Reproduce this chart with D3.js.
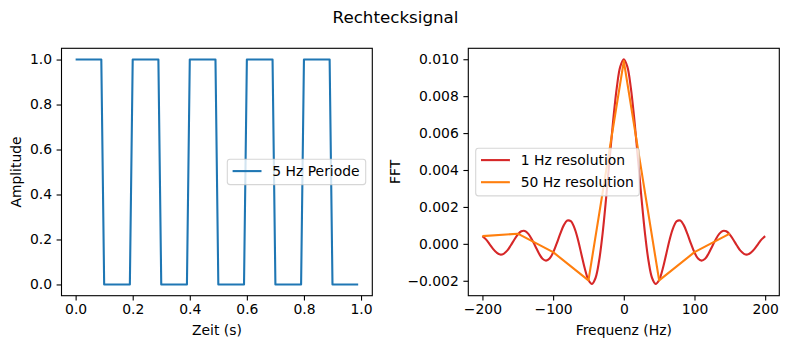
<!DOCTYPE html>
<html>
<head>
<meta charset="utf-8">
<script src="https://cdn.jsdelivr.net/npm/d3@7"></script>
<style>
  body { margin: 0; background: #fff; }
  svg { font-family: "DejaVu Sans", sans-serif; display: block; }
</style>
</head>
<body>
<svg id="fig" width="788" height="348"></svg>
<script>
// square wave, corner samples (t in s)
const sampleTimes = [0, 0.09, 0.10, 0.19, 0.20, 0.29, 0.30, 0.39, 0.40, 0.49,
                     0.50, 0.59, 0.60, 0.69, 0.70, 0.79, 0.80, 0.89, 0.90, 0.99];
const amplitude   = [1, 1, 0, 0, 1, 1, 0, 0, 1, 1,
                     0, 0, 1, 1, 0, 0, 1, 1, 0, 0];

// spectrum at fine resolution, every 5 Hz from -200 to 200
const fineFreqs = d3.range(-200, 205, 5);
const fineFFT = [
   0.00042,  0.00024, -0.00001, -0.00027, -0.00047, -0.00058, -0.00054, -0.00037, -0.00009,  0.00022,
   0.00050,  0.00068,  0.00070,  0.00054,  0.00024, -0.00014, -0.00052, -0.00081, -0.00091, -0.00080,
  -0.00047,  0.00001,  0.00054,  0.00100,  0.00126,  0.00123,  0.00088,  0.00025, -0.00056, -0.00136,
  -0.00196, -0.00217, -0.00185, -0.00093,  0.00056,  0.00249,  0.00462,  0.00670,  0.00844,  0.00960,
   0.01000,
   0.00960,  0.00844,  0.00670,  0.00462,  0.00249,  0.00056, -0.00093, -0.00185, -0.00217, -0.00196,
  -0.00136, -0.00056,  0.00025,  0.00088,  0.00123,  0.00126,  0.00100,  0.00054,  0.00001, -0.00047,
  -0.00080, -0.00091, -0.00081, -0.00052, -0.00014,  0.00024,  0.00054,  0.00070,  0.00068,  0.00050,
   0.00022, -0.00009, -0.00037, -0.00054, -0.00058, -0.00047, -0.00027, -0.00001,  0.00024,  0.00042
];

// spectrum at coarse resolution
const coarseFreqs = [-200, -150, -100, -50, 0, 50, 100, 150];
const coarseFFT = [0.00042, 0.00055, -0.00045, -0.00198, 0.0099, -0.00198, -0.00045, 0.00055];

const leftXTicks = [0, 0.2, 0.4, 0.6, 0.8, 1.0];
const leftYTicks = [0, 0.2, 0.4, 0.6, 0.8, 1.0];
const rightXTicks = [-200, -100, 0, 100, 200];
const rightYTicks = [-0.002, 0, 0.002, 0.004, 0.006, 0.008, 0.010];

const svg = d3.select("#fig");
const fs = 13.9;
const minus = s => s.replace("-", "\u2212");

svg.append("text")
    .attr("x", 395.5).attr("y", 22.5)
    .attr("text-anchor", "middle")
    .attr("font-size", 16.7)
    .text("Rechtecksignal");

function panel(box, xDom, yDom, xTicks, yTicks, xFmt, yFmt, xLabel, yLabel, yLabelX) {
    const x = d3.scaleLinear().domain(xDom).range([box.x0, box.x1]);
    const y = d3.scaleLinear().domain(yDom).range([box.y1, box.y0]);
    const g = svg.append("g");

    const xAxis = g.append("g")
        .attr("transform", `translate(0,${box.y1})`)
        .call(d3.axisBottom(x).tickValues(xTicks).tickFormat(d => minus(xFmt(d)))
            .tickSizeOuter(0).tickSize(4.9).tickPadding(3.6));
    const yAxis = g.append("g")
        .attr("transform", `translate(${box.x0},0)`)
        .call(d3.axisLeft(y).tickValues(yTicks).tickFormat(d => minus(yFmt(d)))
            .tickSizeOuter(0).tickSize(4.9).tickPadding(4.6));
    [xAxis, yAxis].forEach(a => {
        a.select(".domain").remove();
        a.selectAll("line").attr("stroke", "#000").attr("stroke-width", 1.1);
        a.selectAll("text").attr("font-size", fs).attr("fill", "#000")
            .attr("font-family", "DejaVu Sans, sans-serif");
    });

    g.append("text")
        .attr("x", (box.x0 + box.x1) / 2).attr("y", 335)
        .attr("text-anchor", "middle").attr("font-size", fs)
        .text(xLabel);
    g.append("text")
        .attr("transform", `translate(${yLabelX},${(box.y0 + box.y1) / 2}) rotate(-90)`)
        .attr("text-anchor", "middle").attr("font-size", fs)
        .text(yLabel);

    const clipId = "clip" + Math.round(box.x0);
    g.append("clipPath").attr("id", clipId).append("rect")
        .attr("x", box.x0).attr("y", box.y0)
        .attr("width", box.x1 - box.x0).attr("height", box.y1 - box.y0);
    const plot = g.append("g").attr("clip-path", `url(#${clipId})`);
    const frame = () => g.append("rect")
        .attr("x", box.x0).attr("y", box.y0)
        .attr("width", box.x1 - box.x0).attr("height", box.y1 - box.y0)
        .attr("fill", "none").attr("stroke", "#000").attr("stroke-width", 1.1);
    return { x, y, g, plot, frame };
}

function addLine(p, xs, ys, color, curve) {
    const line = d3.line().x(d => p.x(d[0])).y(d => p.y(d[1]))
        .curve(curve || d3.curveLinear);
    p.plot.append("path")
        .datum(xs.map((v, i) => [v, ys[i]]))
        .attr("d", line)
        .attr("fill", "none").attr("stroke", color)
        .attr("stroke-width", 2.1).attr("stroke-linejoin", "round");
}

function legend(p, bx, by, w, entries) {
    const lg = p.g.append("g");
    lg.append("rect")
        .attr("x", bx).attr("y", by).attr("width", w).attr("height", entries.length * 22.3 + 3)
        .attr("rx", 2.8)
        .attr("fill", "#fff").attr("fill-opacity", 0.8)
        .attr("stroke", "#ccc").attr("stroke-opacity", 0.8).attr("stroke-width", 1.1);
    entries.forEach((e, i) => {
        const yy = by + 11.8 + i * 22.1;
        lg.append("line")
            .attr("x1", bx + 5.3).attr("x2", bx + 34.2)
            .attr("y1", yy).attr("y2", yy)
            .attr("stroke", e.color).attr("stroke-width", 2.1);
        lg.append("text")
            .attr("x", bx + 45).attr("y", yy + 5)
            .attr("font-size", fs)
            .text(e.label);
    });
}

// left: time signal
const L = panel({ x0: 61.5, x1: 372.3, y0: 48.3, y1: 295.7 },
    [-0.0495, 1.0395], [-0.05, 1.05], leftXTicks, leftYTicks,
    d3.format(".1f"), d3.format(".1f"), "Zeit (s)", "Amplitude", 20.5);
addLine(L, sampleTimes, amplitude, "#1f77b4");
L.frame();
legend(L, 227.3, 159.3, 138.4, [{ label: "5 Hz Periode", color: "#1f77b4" }]);

// right: spectrum
const R = panel({ x0: 468.3, x1: 779.3, y0: 48.3, y1: 295.7 },
    [-220, 220], [-0.002809, 0.010593], rightXTicks, rightYTicks,
    d3.format("d"), d3.format(".3f"), "Frequenz (Hz)", "FFT", 400);
addLine(R, fineFreqs, fineFFT, "#d62728", d3.curveCatmullRom.alpha(0.5));
addLine(R, coarseFreqs, coarseFFT, "#ff7f0e");
R.frame();
legend(R, 475.7, 148.3, 163.6, [
    { label: "1 Hz resolution", color: "#d62728" },
    { label: "50 Hz resolution", color: "#ff7f0e" }
]);
</script>
</body>
</html>
